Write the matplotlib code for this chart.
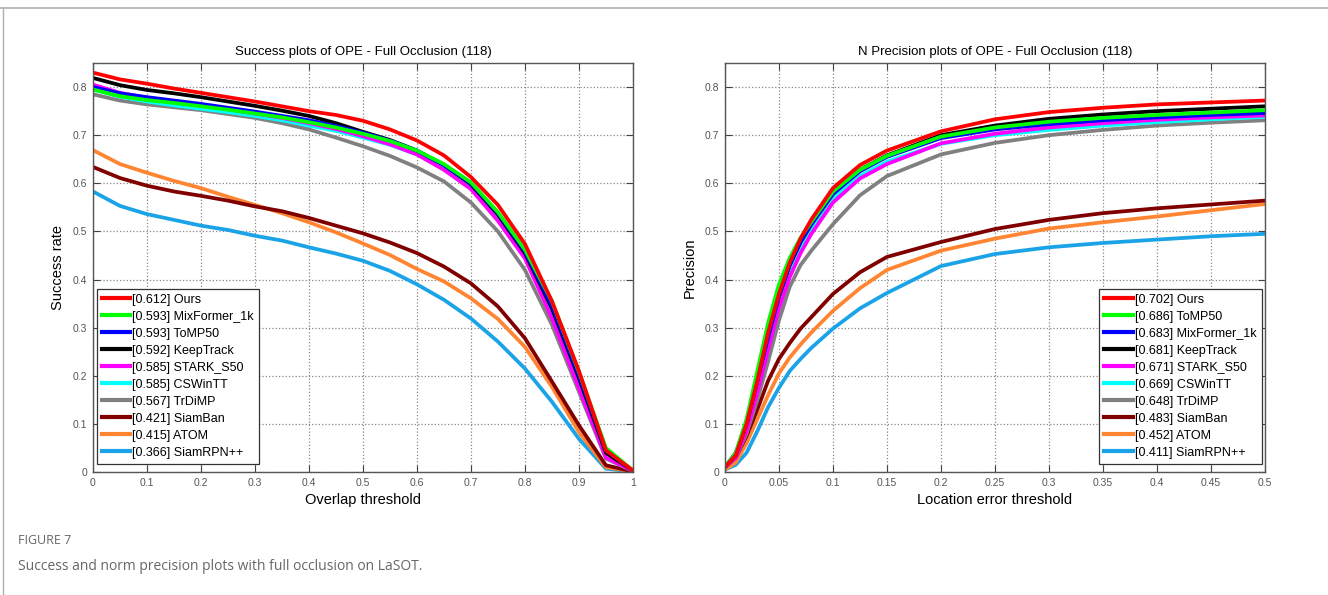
import numpy as np
import matplotlib
matplotlib.use("Agg")
import matplotlib.pyplot as plt
from matplotlib.lines import Line2D

plt.rcParams['font.family'] = ['Liberation Sans', 'DejaVu Sans']

# colours by rank (same in both panels)
colors = ['#ff0000', '#00ff00', '#0000ff', '#000000', '#ff00ff',
          '#00ffff', '#808080', '#800000', '#ff8533', '#1aa3e6']

# ---- success plot ----
succ_names = ['Ours', 'MixFormer_1k', 'ToMP50', 'KeepTrack', 'STARK_S50',
              'CSWinTT', 'TrDiMP', 'SiamBan', 'ATOM', 'SiamRPN++']
succ_scores = ['0.612', '0.593', '0.593', '0.592', '0.585',
               '0.585', '0.567', '0.421', '0.415', '0.366']
overlap = [0, 0.05, 0.1, 0.15, 0.2, 0.25, 0.3, 0.35, 0.4, 0.45, 0.5,
           0.55, 0.6, 0.65, 0.7, 0.75, 0.8, 0.85, 0.9, 0.95, 1.0]
succ_ours = [0.830, 0.816, 0.807, 0.797, 0.788, 0.779, 0.770, 0.760, 0.750, 0.742, 0.730,
             0.712, 0.689, 0.658, 0.613, 0.555, 0.474, 0.355, 0.210, 0.045, 0.003]
succ_mixformer = [0.795, 0.781, 0.773, 0.767, 0.760, 0.753, 0.745, 0.737, 0.727, 0.716, 0.703,
                  0.688, 0.668, 0.640, 0.602, 0.540, 0.462, 0.355, 0.208, 0.050, 0.003]
succ_tomp = [0.800, 0.787, 0.779, 0.772, 0.765, 0.757, 0.749, 0.740, 0.731, 0.719, 0.705,
             0.689, 0.668, 0.638, 0.600, 0.538, 0.458, 0.345, 0.200, 0.045, 0.003]
succ_keeptrack = [0.819, 0.804, 0.794, 0.787, 0.779, 0.770, 0.761, 0.751, 0.740, 0.725, 0.707,
                  0.690, 0.668, 0.638, 0.598, 0.535, 0.455, 0.340, 0.195, 0.040, 0.003]
succ_stark = [0.805, 0.788, 0.778, 0.770, 0.763, 0.754, 0.745, 0.736, 0.725, 0.713, 0.698,
              0.681, 0.660, 0.628, 0.588, 0.522, 0.444, 0.320, 0.174, 0.030, 0.002]
succ_cswintt = [0.795, 0.780, 0.770, 0.762, 0.755, 0.748, 0.740, 0.731, 0.720, 0.709, 0.695,
                0.680, 0.660, 0.630, 0.592, 0.530, 0.455, 0.335, 0.194, 0.045, 0.003]
succ_trdimp = [0.785, 0.772, 0.764, 0.758, 0.752, 0.744, 0.736, 0.725, 0.712, 0.695, 0.677,
               0.657, 0.633, 0.604, 0.560, 0.500, 0.420, 0.306, 0.167, 0.028, 0.002]
succ_siamban = [0.634, 0.611, 0.595, 0.583, 0.574, 0.564, 0.552, 0.542, 0.528, 0.512, 0.496,
                0.477, 0.455, 0.427, 0.392, 0.344, 0.278, 0.188, 0.097, 0.014, 0.001]
succ_atom = [0.669, 0.640, 0.622, 0.605, 0.590, 0.572, 0.555, 0.538, 0.519, 0.498, 0.475,
             0.451, 0.422, 0.396, 0.361, 0.318, 0.260, 0.177, 0.083, 0.010, 0.001]
succ_siamrpn = [0.583, 0.553, 0.536, 0.524, 0.512, 0.503, 0.491, 0.481, 0.467, 0.454, 0.439,
                0.418, 0.390, 0.358, 0.319, 0.271, 0.215, 0.146, 0.069, 0.007, 0.001]

# ---- normalised precision plot ----
prec_names = ['Ours', 'ToMP50', 'MixFormer_1k', 'KeepTrack', 'STARK_S50',
              'CSWinTT', 'TrDiMP', 'SiamBan', 'ATOM', 'SiamRPN++']
prec_scores = ['0.702', '0.686', '0.683', '0.681', '0.671',
               '0.669', '0.648', '0.483', '0.452', '0.411']
loc_err = [0, 0.01, 0.02, 0.03, 0.04, 0.05, 0.06, 0.07, 0.08, 0.1, 0.125,
           0.15, 0.2, 0.25, 0.3, 0.35, 0.4, 0.45, 0.5]
prec_ours = [0.01, 0.035, 0.10, 0.19, 0.29, 0.37, 0.435, 0.485, 0.525, 0.590, 0.638,
             0.668, 0.708, 0.733, 0.748, 0.757, 0.764, 0.768, 0.772]
prec_tomp = [0.01, 0.04, 0.11, 0.21, 0.31, 0.39, 0.445, 0.487, 0.520, 0.583, 0.628,
             0.657, 0.697, 0.716, 0.728, 0.736, 0.742, 0.747, 0.752]
prec_mixformer = [0.01, 0.04, 0.10, 0.19, 0.28, 0.365, 0.43, 0.478, 0.515, 0.578, 0.625,
                  0.655, 0.694, 0.712, 0.723, 0.731, 0.737, 0.742, 0.746]
prec_keeptrack = [0.01, 0.035, 0.10, 0.19, 0.285, 0.365, 0.43, 0.478, 0.515, 0.578, 0.628,
                  0.658, 0.700, 0.720, 0.734, 0.743, 0.750, 0.755, 0.760]
prec_stark = [0.01, 0.03, 0.085, 0.165, 0.255, 0.34, 0.405, 0.455, 0.495, 0.560, 0.610,
              0.640, 0.683, 0.703, 0.716, 0.725, 0.732, 0.737, 0.741]
prec_cswintt = [0.01, 0.035, 0.095, 0.18, 0.27, 0.355, 0.418, 0.465, 0.505, 0.568, 0.615,
                0.645, 0.682, 0.700, 0.711, 0.720, 0.727, 0.733, 0.738]
prec_trdimp = [0.01, 0.03, 0.08, 0.15, 0.23, 0.315, 0.385, 0.43, 0.46, 0.515, 0.575,
               0.615, 0.660, 0.684, 0.700, 0.711, 0.720, 0.726, 0.731]
prec_siamban = [0.01, 0.03, 0.075, 0.13, 0.19, 0.235, 0.268, 0.298, 0.322, 0.370, 0.415,
                0.447, 0.478, 0.505, 0.524, 0.538, 0.548, 0.556, 0.564]
prec_atom = [0.005, 0.02, 0.06, 0.11, 0.16, 0.205, 0.238, 0.265, 0.29, 0.335, 0.382,
             0.420, 0.460, 0.485, 0.506, 0.519, 0.531, 0.544, 0.557]
prec_siamrpn = [0.005, 0.015, 0.04, 0.085, 0.135, 0.175, 0.21, 0.235, 0.258, 0.298, 0.34,
                0.372, 0.428, 0.453, 0.467, 0.476, 0.483, 0.490, 0.495]

succ_curves = [succ_ours, succ_mixformer, succ_tomp, succ_keeptrack, succ_stark,
               succ_cswintt, succ_trdimp, succ_siamban, succ_atom, succ_siamrpn]
prec_curves = [prec_ours, prec_tomp, prec_mixformer, prec_keeptrack, prec_stark,
               prec_cswintt, prec_trdimp, prec_siamban, prec_atom, prec_siamrpn]


def style_axes(ax, xticks, xlim):
    ax.set_xlim(*xlim)
    ax.set_ylim(0, 0.85)
    ax.set_xticks(xticks)
    ax.set_xticklabels(['%g' % t for t in xticks])
    yt = np.round(np.arange(0, 0.81, 0.1), 1)
    ax.set_yticks(yt)
    ax.set_yticklabels(['%g' % t for t in yt])
    ax.grid(True, linestyle=':', color='#888888', linewidth=0.9)
    ax.tick_params(direction='in', length=5, top=True, right=True,
                   labelsize=7.5, labelcolor='#555555', color='#444444', pad=4)
    for s in ax.spines.values():
        s.set_color('#555555')
        s.set_linewidth(1.0)


def draw_panel(ax, x, curves, names, scores, title, xlabel, ylabel, xticks, xlim, leg_loc, leg_anchor):
    for i in reversed(range(len(curves))):
        ax.plot(x, curves[i], color=colors[i], linewidth=2.7, solid_joinstyle='round')
    style_axes(ax, xticks, xlim)
    ax.set_title(title, fontsize=9.5, pad=6)
    ax.set_xlabel(xlabel, fontsize=10.5, labelpad=4)
    ax.set_ylabel(ylabel, fontsize=10.5, labelpad=6)
    handles = [Line2D([0], [0], color=colors[i], linewidth=3) for i in range(len(curves))]
    labels = ['[%s] %s' % (scores[i], names[i]) for i in range(len(curves))]
    leg = ax.legend(handles, labels, loc=leg_loc, bbox_to_anchor=leg_anchor,
                    borderaxespad=0, fontsize=9.0, handlelength=2.3, handletextpad=0.15,
                    labelspacing=0.4, borderpad=0.4, fancybox=False, framealpha=1,
                    edgecolor='#333333')
    leg.get_frame().set_linewidth(0.9)


fig = plt.figure(figsize=(13.28, 5.95), dpi=100)

ax1 = fig.add_axes([0.0700, 0.2067, 0.4066, 0.6874])
draw_panel(ax1, overlap, succ_curves, succ_names, succ_scores,
           'Success plots of OPE - Full Occlusion (118)', 'Overlap threshold', 'Success rate',
           np.round(np.arange(0, 1.01, 0.1), 1), (0, 1), 'lower left', (0.007, 0.02))

ax2 = fig.add_axes([0.5459, 0.2067, 0.4066, 0.6874])
draw_panel(ax2, loc_err, prec_curves, prec_names, prec_scores,
           'N Precision plots of OPE - Full Occlusion (118)', 'Location error threshold', 'Precision',
           np.round(np.arange(0, 0.501, 0.05), 2), (0, 0.5), 'lower right', (0.994, 0.02))

# card border
fig.add_artist(Line2D([0, 1], [1 - 8 / 595, 1 - 8 / 595], transform=fig.transFigure,
                      color='#b0b0b0', linewidth=1.2))
fig.add_artist(Line2D([3 / 1328, 3 / 1328], [0, 1 - 8 / 595], transform=fig.transFigure,
                      color='#b0b0b0', linewidth=1.0))

fig.text(18 / 1328, 1 - 541 / 595, 'FIGURE 7', fontsize=9, color='#666666',
         family=['Open Sans', 'DejaVu Sans'], va='center')
fig.text(18 / 1328, 1 - 566 / 595, 'Success and norm precision plots with full occlusion on LaSOT.',
         fontsize=10, color='#666666', family=['Open Sans', 'DejaVu Sans'], va='center')

fig.savefig('out.png', dpi=100)
